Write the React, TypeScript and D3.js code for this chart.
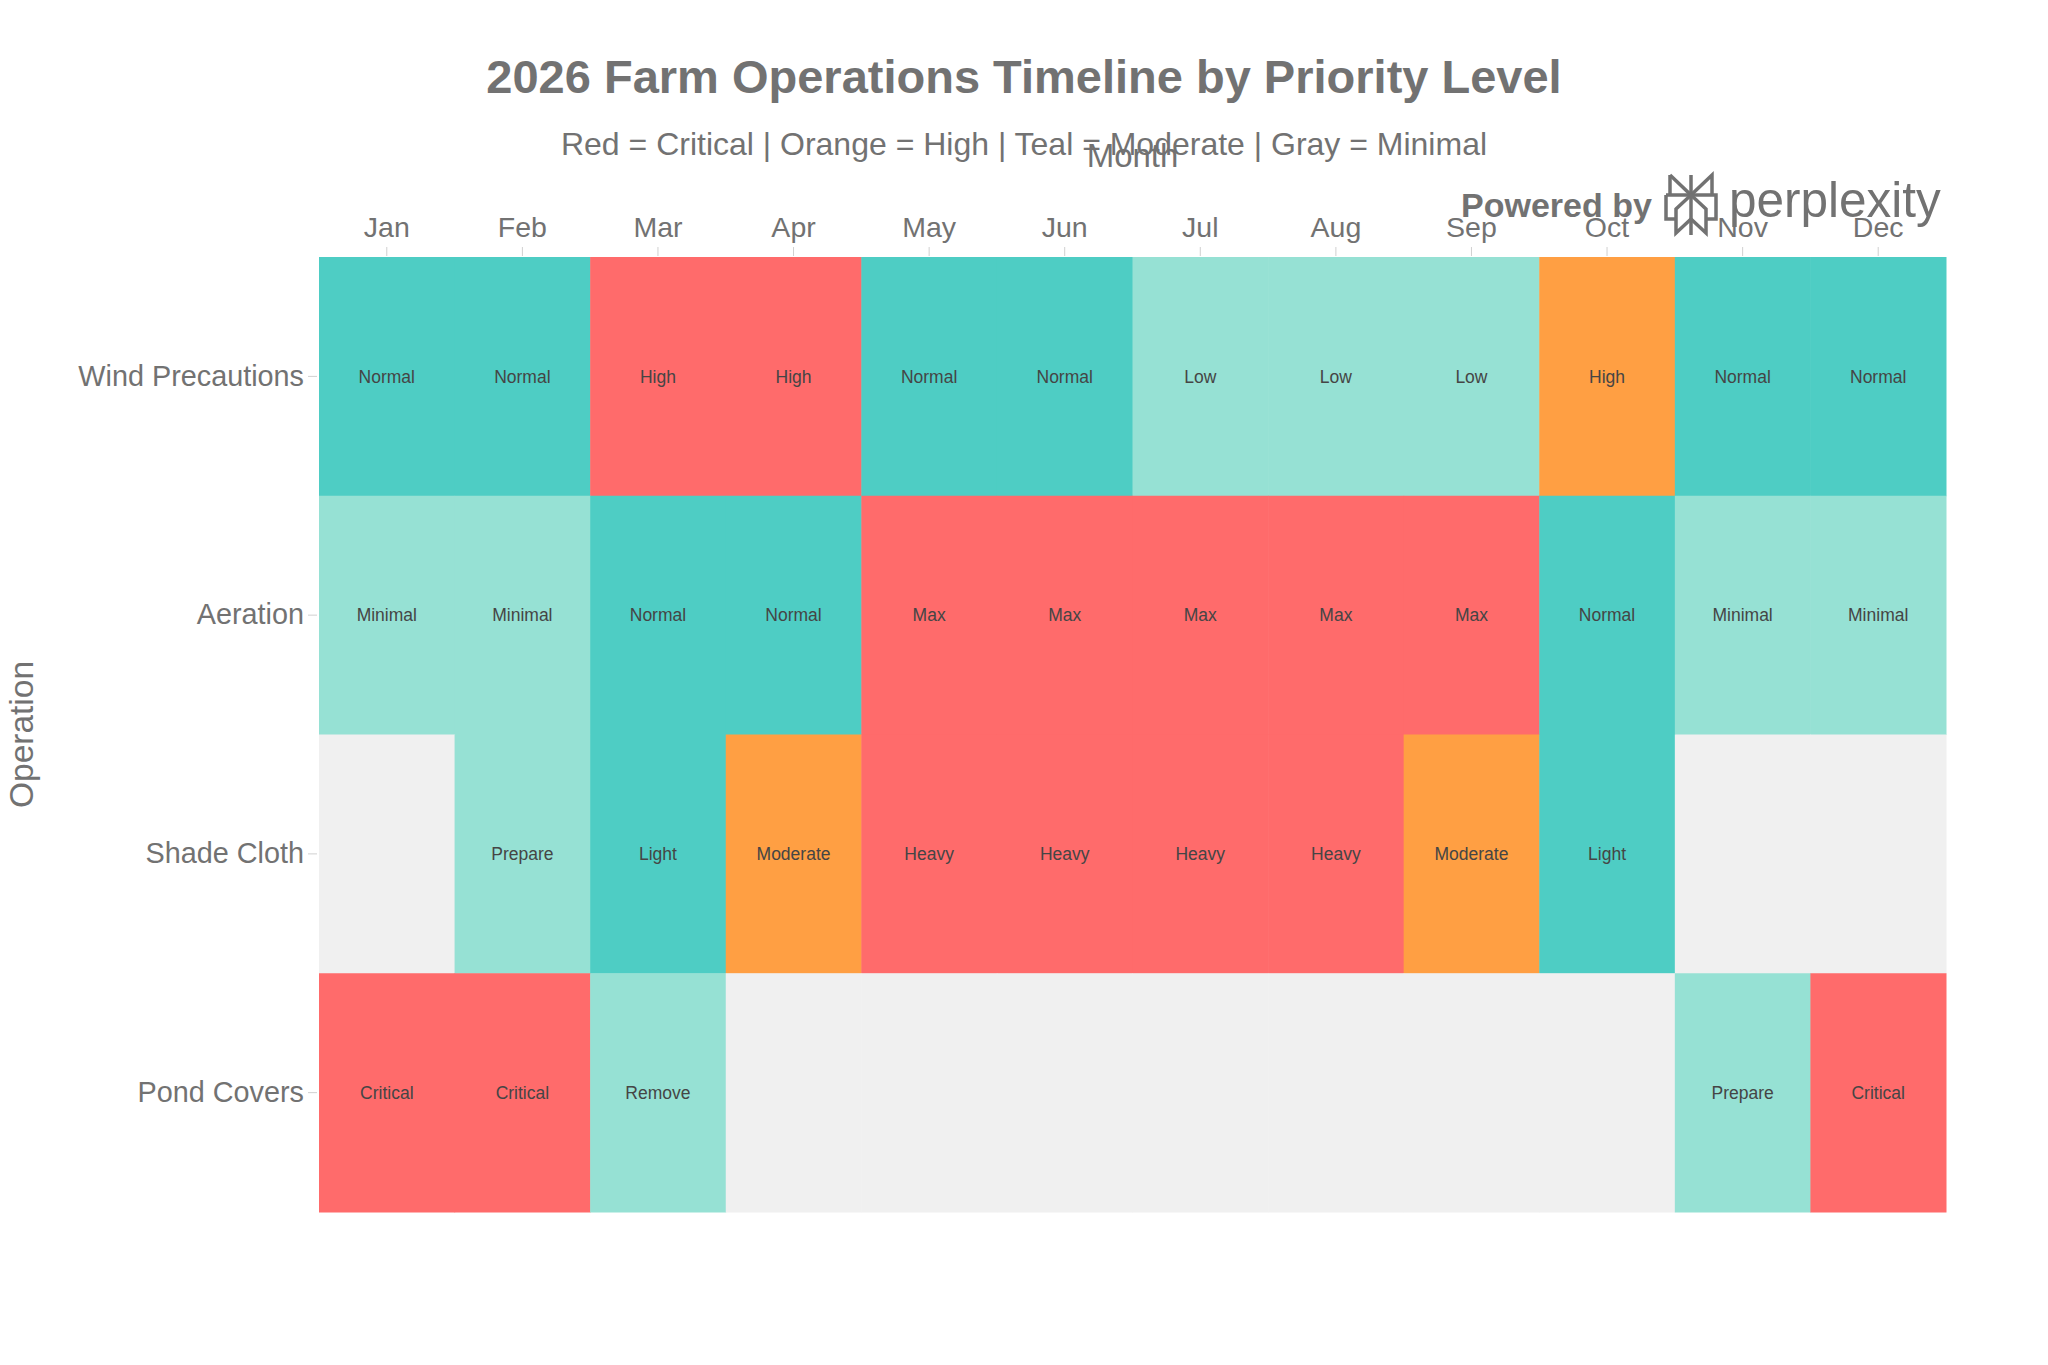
import React, { useRef, useEffect } from 'react';
import * as d3 from 'd3';

// months along the top axis
const months = ['Jan', 'Feb', 'Mar', 'Apr', 'May', 'Jun', 'Jul', 'Aug', 'Sep', 'Oct', 'Nov', 'Dec'];
const operations = ['Wind Precautions', 'Aeration', 'Shade Cloth', 'Pond Covers'];

// priority level per month: 0 = none, 1 = low, 2 = moderate, 3 = high, 4 = critical
const windLevels = [2, 2, 4, 4, 2, 2, 1, 1, 1, 3, 2, 2];
const aerationLevels = [1, 1, 2, 2, 4, 4, 4, 4, 4, 2, 1, 1];
const shadeLevels = [0, 1, 2, 3, 4, 4, 4, 4, 3, 2, 0, 0];
const pondLevels = [4, 4, 1, 0, 0, 0, 0, 0, 0, 0, 1, 4];

const windLabels = ['Normal', 'Normal', 'High', 'High', 'Normal', 'Normal', 'Low', 'Low', 'Low', 'High', 'Normal', 'Normal'];
const aerationLabels = ['Minimal', 'Minimal', 'Normal', 'Normal', 'Max', 'Max', 'Max', 'Max', 'Max', 'Normal', 'Minimal', 'Minimal'];
const shadeLabels = ['', 'Prepare', 'Light', 'Moderate', 'Heavy', 'Heavy', 'Heavy', 'Heavy', 'Moderate', 'Light', '', ''];
const pondLabels = ['Critical', 'Critical', 'Remove', '', '', '', '', '', '', '', 'Prepare', 'Critical'];

const levelColors = ['#F0F0F0', '#96E1D4', '#4ECDC4', '#FF9F43', '#FF6B6B'];

const W = 2048;
const H = 1365;
const FONT = '"Liberation Sans", Arial, Helvetica, sans-serif';
const GRAY = '#727272';

interface Cell {
    op: string;
    month: string;
    level: number;
    label: string;
}

export default function App() {
    const svgRef = useRef<SVGSVGElement>(null);

    useEffect(() => {
        if (!svgRef.current) return;
        const svg = d3.select(svgRef.current);
        svg.selectAll('*').remove();

        const margin = { top: 257, right: W - 1946, bottom: H - 1212, left: 319 };
        const innerW = W - margin.left - margin.right;
        const innerH = H - margin.top - margin.bottom;

        const levelRows = [windLevels, aerationLevels, shadeLevels, pondLevels];
        const labelRows = [windLabels, aerationLabels, shadeLabels, pondLabels];
        const cells: Cell[] = [];
        operations.forEach((op, r) => {
            months.forEach((m, c) => {
                cells.push({ op, month: m, level: levelRows[r][c], label: labelRows[r][c] });
            });
        });

        const x = d3.scaleBand().domain(months).range([0, innerW]);
        const y = d3.scaleBand().domain(operations).range([0, innerH]);
        const color = d3.scaleOrdinal<number, string>().domain([0, 1, 2, 3, 4]).range(levelColors);

        const g = svg.append('g').attr('transform', `translate(${margin.left},${margin.top})`);

        // heatmap cells
        g.selectAll('.cell')
            .data(cells)
            .enter().append('rect')
            .attr('class', 'cell')
            .attr('x', d => x(d.month)!)
            .attr('y', d => y(d.op)!)
            .attr('width', x.bandwidth() + 0.5)
            .attr('height', y.bandwidth() + 0.5)
            .attr('fill', d => color(d.level));

        g.selectAll('.cell-label')
            .data(cells.filter(d => d.label))
            .enter().append('text')
            .attr('x', d => x(d.month)! + x.bandwidth() / 2)
            .attr('y', d => y(d.op)! + y.bandwidth() / 2)
            .attr('dy', '0.35em')
            .attr('text-anchor', 'middle')
            .style('font-family', FONT)
            .style('font-size', '17.5px')
            .style('fill', '#454545')
            .text(d => d.label);

        // top axis (months)
        const xAxis = g.append('g')
            .call(d3.axisTop(x).tickSize(9).tickPadding(11));
        xAxis.select('.domain').remove();
        xAxis.selectAll('line').attr('stroke', '#d0d0d0').attr('transform', 'translate(0,-1)');
        xAxis.selectAll('text')
            .style('font-family', FONT)
            .style('font-size', '28.5px')
            .style('fill', GRAY);

        // left axis (operations)
        const yAxis = g.append('g')
            .call(d3.axisLeft(y).tickSize(9).tickPadding(6));
        yAxis.select('.domain').remove();
        yAxis.selectAll('line').attr('stroke', '#d0d0d0').attr('transform', 'translate(-2,0)');
        yAxis.selectAll('text')
            .style('font-family', FONT)
            .style('font-size', '28.8px')
            .style('fill', GRAY);

        // axis titles
        svg.append('text')
            .attr('x', margin.left + innerW / 2)
            .attr('y', 167)
            .attr('text-anchor', 'middle')
            .style('font-family', FONT)
            .style('font-size', '33px')
            .style('fill', GRAY)
            .text('Month');

        svg.append('text')
            .attr('transform', `translate(33,${margin.top + innerH / 2}) rotate(-90)`)
            .attr('text-anchor', 'middle')
            .style('font-family', FONT)
            .style('font-size', '33.5px')
            .style('fill', GRAY)
            .text('Operation');

        // title + subtitle
        svg.append('text')
            .attr('x', W / 2)
            .attr('y', 93)
            .attr('text-anchor', 'middle')
            .style('font-family', FONT)
            .style('font-size', '47px')
            .style('font-weight', 'bold')
            .style('fill', GRAY)
            .text('2026 Farm Operations Timeline by Priority Level');

        svg.append('text')
            .attr('x', W / 2)
            .attr('y', 155)
            .attr('text-anchor', 'middle')
            .style('font-family', FONT)
            .style('font-size', '32px')
            .style('fill', GRAY)
            .text('Red = Critical | Orange = High | Teal = Moderate | Gray = Minimal');

        // watermark
        const wm = svg.append('g');
        wm.append('text')
            .attr('x', 1461)
            .attr('y', 217)
            .style('font-family', FONT)
            .style('font-size', '34px')
            .style('font-weight', 'bold')
            .style('fill', GRAY)
            .text('Powered by');

        const logo = wm.append('g')
            .attr('transform', 'translate(1664,175)')
            .attr('fill', 'none')
            .attr('stroke', GRAY)
            .attr('stroke-width', 3.5)
            .attr('stroke-linejoin', 'miter');
        const logoPaths = [
            'M27,0 L27,60',
            'M6,0 L27,20 L48,0 L48,20',
            'M6,0 L6,20',
            'M2,20 L52,20 L52,44 L42,44',
            'M2,20 L2,44 L12,44',
            'M27,20 L12,34 L12,58 L27,44',
            'M27,20 L42,34 L42,58 L27,44'
        ];
        logo.selectAll('path')
            .data(logoPaths)
            .enter().append('path')
            .attr('d', d => d);

        wm.append('text')
            .attr('x', 1729)
            .attr('y', 217)
            .style('font-family', FONT)
            .style('font-size', '49.5px')
            .style('fill', GRAY)
            .text('perplexity');
    }, []);

    return (
        <svg
            ref={svgRef}
            width={W}
            height={H}
            viewBox={`0 0 ${W} ${H}`}
            style={{ position: 'absolute', left: 0, top: 0, background: '#fff', display: 'block' }}
        />
    );
}
